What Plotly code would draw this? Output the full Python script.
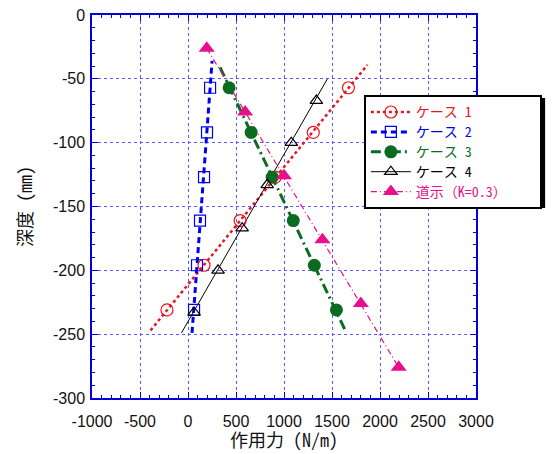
import plotly.graph_objects as go

# ---- data ----
case1_x = [1671, 1305, 909, 543, 167, -219]
case1_y = [-57, -92, -127, -161, -196, -231]
case1_fit_x = [-390, 1870]
case1_fit_y = [-247, -39]

case2_x = [230, 198, 167, 125, 94, 63]
case2_y = [-57, -92, -127, -161, -196, -231]
case2_fit_x = [42, 251]
case2_fit_y = [-249, -36]

case3_x = [428, 658, 877, 1097, 1316, 1546]
case3_y = [-57, -92, -127, -161, -196, -231]
case3_fit_x = [334, 1650]
case3_fit_y = [-41, -249]

case4_x = [1337, 1076, 825, 564, 313, 63]
case4_y = [-67, -100, -133, -167, -200, -233]
case4_fit_x = [-68, 1452]
case4_fit_y = [-249, -50]

road_x = [195, 595, 1000, 1400, 1800, 2195]
road_y = [-26, -76, -126, -176, -226, -276]

x_ticks = [-1000, -500, 0, 500, 1000, 1500, 2000, 2500, 3000]
x_ticktext = ["-1000", "-500", "0", "500", "1000", "1500", "2000", "2500", "3000"]
y_ticks = [0, -50, -100, -150, -200, -250, -300]
y_ticktext = ["0", "-50", "-100", "-150", "-200", "-250", "-300"]

names = ["ケース 1", "ケース 2", "ケース 3", "ケース 4", "道示（K=0.3）"]
x_title = "作用力 (N/m)"
y_title = "深度 (mm)"

RED = "#e8141e"
BLUE = "#0000ee"
GREEN = "#0b6b21"
BLACK = "#000000"
PINK = "#e8108a"

MONO = "Noto Sans Mono CJK JP, Noto Sans CJK JP, sans-serif"

series = [
    dict(x=case1_x, y=case1_y, fx=case1_fit_x, fy=case1_fit_y, color=RED,
         dash="dot", lw=2.5, marker=dict(symbol="circle-open", size=12, line=dict(width=1.2, color=RED), color=RED)),
    dict(x=case2_x, y=case2_y, fx=case2_fit_x, fy=case2_fit_y, color=BLUE,
         dash="6px,4px", lw=3, marker=dict(symbol="square-open", size=11, line=dict(width=1.2, color=BLUE), color=BLUE)),
    dict(x=case3_x, y=case3_y, fx=case3_fit_x, fy=case3_fit_y, color=GREEN,
         dash="10px,4px,2px,4px", lw=3, marker=dict(symbol="circle", size=13, color=GREEN)),
    dict(x=case4_x, y=case4_y, fx=case4_fit_x, fy=case4_fit_y, color=BLACK,
         dash="solid", lw=1, marker=dict(symbol="triangle-up-open", size=11, line=dict(width=1.2, color=BLACK), color=BLACK)),
    dict(x=road_x, y=road_y, fx=road_x, fy=road_y, color=PINK,
         dash="6px,3px,1px,3px", lw=1.2, marker=dict(symbol="triangle-up", size=14, color=PINK)),
]

fig = go.Figure()

for s in series:
    fig.add_trace(go.Scatter(x=s["fx"], y=s["fy"], mode="lines",
                             line=dict(color=s["color"], width=s["lw"], dash=s["dash"]),
                             showlegend=False, hoverinfo="skip"))
for s in series:
    fig.add_trace(go.Scatter(x=s["x"], y=s["y"], mode="markers",
                             marker=s["marker"], showlegend=False))
for i, (s, n) in enumerate(zip(series, names)):
    pad = "\u00a0\u00a0\u00a0\u00a0" if i == len(names) - 1 else ""
    fig.add_trace(go.Scatter(x=[None], y=[None], mode="lines+markers",
                             line=dict(color=s["color"], width=s["lw"], dash=s["dash"]),
                             marker=s["marker"],
                             name=f'<span style="color:{s["color"]};font-size:14px">{n}{pad}</span>'))

axis_common = dict(
    showgrid=True, gridcolor="#5a5aff", griddash="dot", gridwidth=1,
    showline=True, linecolor="#0000dd", linewidth=1.5, mirror="allticks",
    ticks="inside", ticklen=6, tickcolor="#0000dd", tickwidth=1,
    zeroline=False, ticklabeloverflow="allow", automargin=False,
    tickfont=dict(family="Liberation Sans, Arial, sans-serif", size=16, color="#111111"),
)

fig.update_xaxes(range=[-1000, 3000], tickmode="array", tickvals=x_ticks, ticktext=x_ticktext,
                 minor=dict(dtick=100, ticks="inside", ticklen=3, tickcolor="#0000dd", showgrid=False),
                 ticklabelstandoff=8,
                 **axis_common)
fig.update_yaxes(range=[-300, 0], tickmode="array", tickvals=y_ticks, ticktext=y_ticktext,
                 minor=dict(dtick=10, ticks="inside", ticklen=3, tickcolor="#0000dd", showgrid=False),
                 ticklabelstandoff=2,
                 title=dict(text=y_title, standoff=16,
                            font=dict(family=MONO, size=18, color="#111111")),
                 **axis_common)

# x-axis title placed as a paper annotation so it stays inside the page
fig.add_annotation(text=x_title, xref="paper", yref="paper", x=0.5, y=-0.106,
                   xanchor="center", yanchor="middle", showarrow=False,
                   font=dict(family=MONO, size=18, color="#111111"))

# legend drop shadow
fig.add_shape(type="rect", xref="paper", yref="paper",
              x0=0.716, x1=1.18, y0=0.496, y1=0.783,
              fillcolor="black", line=dict(width=0), layer="above")

fig.update_layout(
    width=555, height=454,
    margin=dict(l=84, r=87, t=7, b=64),
    paper_bgcolor="white", plot_bgcolor="white",
    showlegend=True,
    legend=dict(x=0.708, y=0.791, xanchor="left", yanchor="top",
                bgcolor="white", bordercolor="black", borderwidth=2,
                font=dict(family=MONO, size=13),
                tracegroupgap=0, itemwidth=40),
)

fig.write_html("out.html")
